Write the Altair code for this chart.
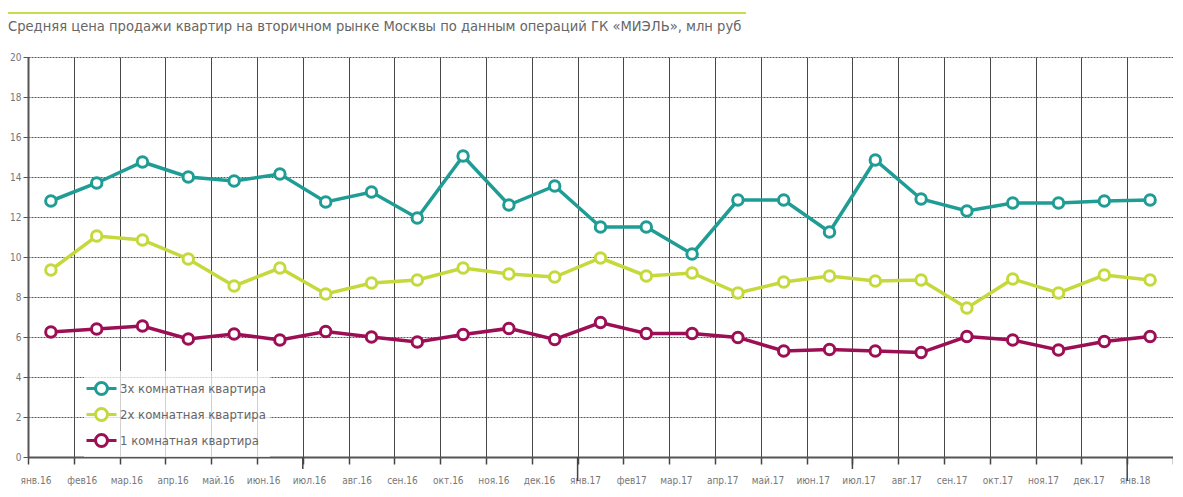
import altair as alt
import pandas as pd

title_text = "Средняя цена продажи квартир на вторичном рынке Москвы по данным операций ГК «МИЭЛЬ», млн руб"

months = ["янв.16", "фев16", "мар.16", "апр.16", "май.16", "июн.16", "июл.16", "авг.16",
          "сен.16", "окт.16", "ноя.16", "дек.16", "янв.17", "фев17", "мар.17", "апр.17",
          "май.17", "июн.17", "июл.17", "авг.17", "сен.17", "окт.17", "ноя.17", "дек.17", "янв.18"]

room3 = [12.8, 13.7, 14.75, 14.0, 13.8, 14.15, 12.75, 13.25, 11.95, 15.05, 12.6, 13.55, 11.5,
         11.5, 10.15, 12.85, 12.85, 11.25, 14.85, 12.9, 12.3, 12.7, 12.7, 12.8, 12.85]
room2 = [9.35, 11.05, 10.85, 9.9, 8.55, 9.45, 8.15, 8.7, 8.85, 9.45, 9.15, 9.0, 9.95,
         9.05, 9.2, 8.2, 8.75, 9.05, 8.8, 8.85, 7.45, 8.9, 8.2, 9.1, 8.85]
room1 = [6.25, 6.4, 6.55, 5.9, 6.15, 5.85, 6.27, 6.0, 5.75, 6.12, 6.43, 5.88, 6.72,
         6.18, 6.18, 5.98, 5.3, 5.38, 5.3, 5.22, 6.02, 5.85, 5.35, 5.77, 6.02]

series_names = ["3х комнатная квартира", "2х комнатная квартира", "1 комнатная квартира"]
series_colors = ["#1f9d94", "#c6d93c", "#9c0f55"]

half_year_marks = ["июл.16", "июл.17"]
year_marks = ["янв.17", "янв.18"]

rows = []
for name, vals in zip(series_names, [room3, room2, room1]):
    for m, v in zip(months, vals):
        rows.append({"month": m, "value": v, "series": name})
df = pd.DataFrame(rows)

FONT = "DejaVu Sans Condensed, Liberation Sans Narrow, Liberation Sans, sans-serif"

xscale = alt.Scale(type="band", domain=months, paddingInner=0, paddingOuter=0)

legend_symbol = ("M -1.25 0 L -0.5 0 M 0.5 0 L 1.25 0 "
                 "M 0.5 0 A 0.5 0.5 0 1 1 -0.5 0 A 0.5 0.5 0 1 1 0.5 0 Z")

color = alt.Color(
    "series:N",
    scale=alt.Scale(domain=series_names, range=series_colors),
    sort=series_names,
    legend=alt.Legend(
        title=None, orient="none", legendX=56, legendY=314,
        symbolType=legend_symbol, symbolSize=576, symbolStrokeWidth=3,
        symbolFillColor="white", labelFont=FONT, labelFontSize=13,
        labelColor="#666666", rowPadding=-3, labelOffset=5,
        fillColor="rgba(255,255,255,0.75)", padding=4,
    ),
)

base = alt.Chart(df).encode(
    x=alt.X("month:N", scale=xscale, bandPosition=0.5,
            axis=alt.Axis(title=None, tickBand="extent", grid=True, gridColor="#333333",
                          gridWidth=1, gridOpacity=0.9, domainColor="#555555", domainWidth=2,
                          tickColor="#444444", tickSize=7, tickWidth=1.5,
                          labelAngle=0, labelFont=FONT, labelFontSize=10, labelColor="#777777",
                          labelPadding=16)),
    y=alt.Y("value:Q", scale=alt.Scale(domain=[0, 20]),
            axis=alt.Axis(title=None, values=list(range(0, 21, 2)), grid=True,
                          gridColor="#555555", gridDash=[2, 1], gridWidth=1.2,
                          domainColor="#555555", domainWidth=2, tickColor="#555555",
                          tickSize=5, labelFont=FONT, labelFontSize=10, labelColor="#777777",
                          labelPadding=2)),
    color=color,
)

lines = base.mark_line(strokeWidth=3.5)
points = base.mark_point(shape="circle", filled=False, fill="white", fillOpacity=1,
                         size=110, strokeWidth=3, opacity=1)

half_df = pd.DataFrame({"month": half_year_marks})
year_df = pd.DataFrame({"month": year_marks})

half_ticks = alt.Chart(half_df).mark_rule(color="#444444", strokeWidth=1.5).encode(
    x=alt.X("month:N", scale=xscale, bandPosition=0),
    y=alt.value(400), y2=alt.value(412))
year_ticks = alt.Chart(year_df).mark_rule(color="#444444", strokeWidth=1.5).encode(
    x=alt.X("month:N", scale=xscale, bandPosition=0),
    y=alt.value(400), y2=alt.value(424))

title_line = alt.Chart(pd.DataFrame({"a": [0]})).mark_rule(color="#c9dc4a", strokeWidth=2).encode(
    x=alt.value(-20), x2=alt.value(718), y=alt.value(-44))

title_mark = alt.Chart(pd.DataFrame({"t": [title_text]})).mark_text(
    align="left", baseline="middle", font=FONT, fontSize=14.6, color="#666666").encode(
    x=alt.value(-20), y=alt.value(-30), text="t:N")

chart = alt.layer(title_line, title_mark, half_ticks, year_ticks, lines, points).properties(
    width=1145, height=400,
    autosize=alt.AutoSizeParams(type="none"),
    padding={"left": 20, "top": 49, "right": 0, "bottom": 32},
).configure_view(stroke=None)

chart.save("out.html", embed_options={"renderer": "svg", "actions": False})
